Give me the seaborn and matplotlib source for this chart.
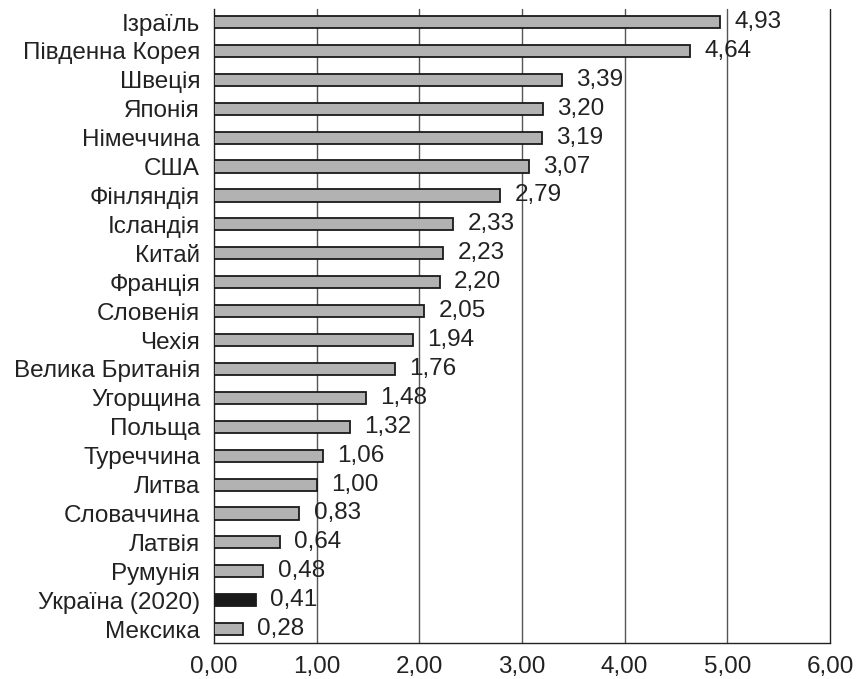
import matplotlib
matplotlib.use("Agg")
import matplotlib.pyplot as plt
import seaborn as sns
import pandas as pd

countries = [
    "Ізраїль", "Південна Корея", "Швеція", "Японія", "Німеччина", "США",
    "Фінляндія", "Ісландія", "Китай", "Франція", "Словенія", "Чехія",
    "Велика Британія", "Угорщина", "Польща", "Туреччина", "Литва",
    "Словаччина", "Латвія", "Румунія", "Україна (2020)", "Мексика",
]
values = [
    4.93, 4.64, 3.39, 3.20, 3.19, 3.07, 2.79, 2.33, 2.23, 2.20, 2.05, 1.94,
    1.76, 1.48, 1.32, 1.06, 1.00, 0.83, 0.64, 0.48, 0.41, 0.28,
]
highlight = "Україна (2020)"
x_ticks = [0, 1, 2, 3, 4, 5, 6]

df = pd.DataFrame({"country": countries, "value": values})
palette = {c: ("#1a1a1a" if c == highlight else "#b2b2b2") for c in countries}

sns.set_style("white")
plt.rcParams["font.family"] = ["Liberation Sans", "DejaVu Sans"]

FS = 17.5

fig = plt.figure(figsize=(8.61, 6.79), dpi=100)
ax = fig.add_axes([214 / 861, 36 / 679, 616 / 861, 634 / 679])

sns.barplot(data=df, x="value", y="country", hue="country", palette=palette,
            order=countries, legend=False, width=0.42, edgecolor="#1a1a1a",
            linewidth=1.3, ax=ax, zorder=3)

ax.set_xlim(0, 6)
ax.set_ylim(len(countries) - 0.52, -0.45)
ax.set_xticks(x_ticks)
ax.set_xticklabels([f"{t:.2f}".replace(".", ",") for t in x_ticks], fontsize=FS,
                   color="#222222")
ax.tick_params(axis="y", labelsize=FS, labelcolor="#222222", length=0, pad=10)
ax.tick_params(axis="x", length=0, pad=9)
ax.set_xlabel("")
ax.set_ylabel("")

for t in x_ticks[1:]:
    ax.axvline(t, color="#555555" if t < 6 else "#222222", lw=1.0, zorder=1,
               clip_on=False)

for spine in ["top", "right"]:
    ax.spines[spine].set_visible(False)
for spine in ["left", "bottom"]:
    ax.spines[spine].set_color("#222222")
    ax.spines[spine].set_linewidth(1.0)

for i, v in enumerate(values):
    ax.text(v + 0.14, i, f"{v:.2f}".replace(".", ","), va="center", ha="left",
            fontsize=FS, color="#222222", zorder=4)

fig.savefig("out.png", dpi=100)
